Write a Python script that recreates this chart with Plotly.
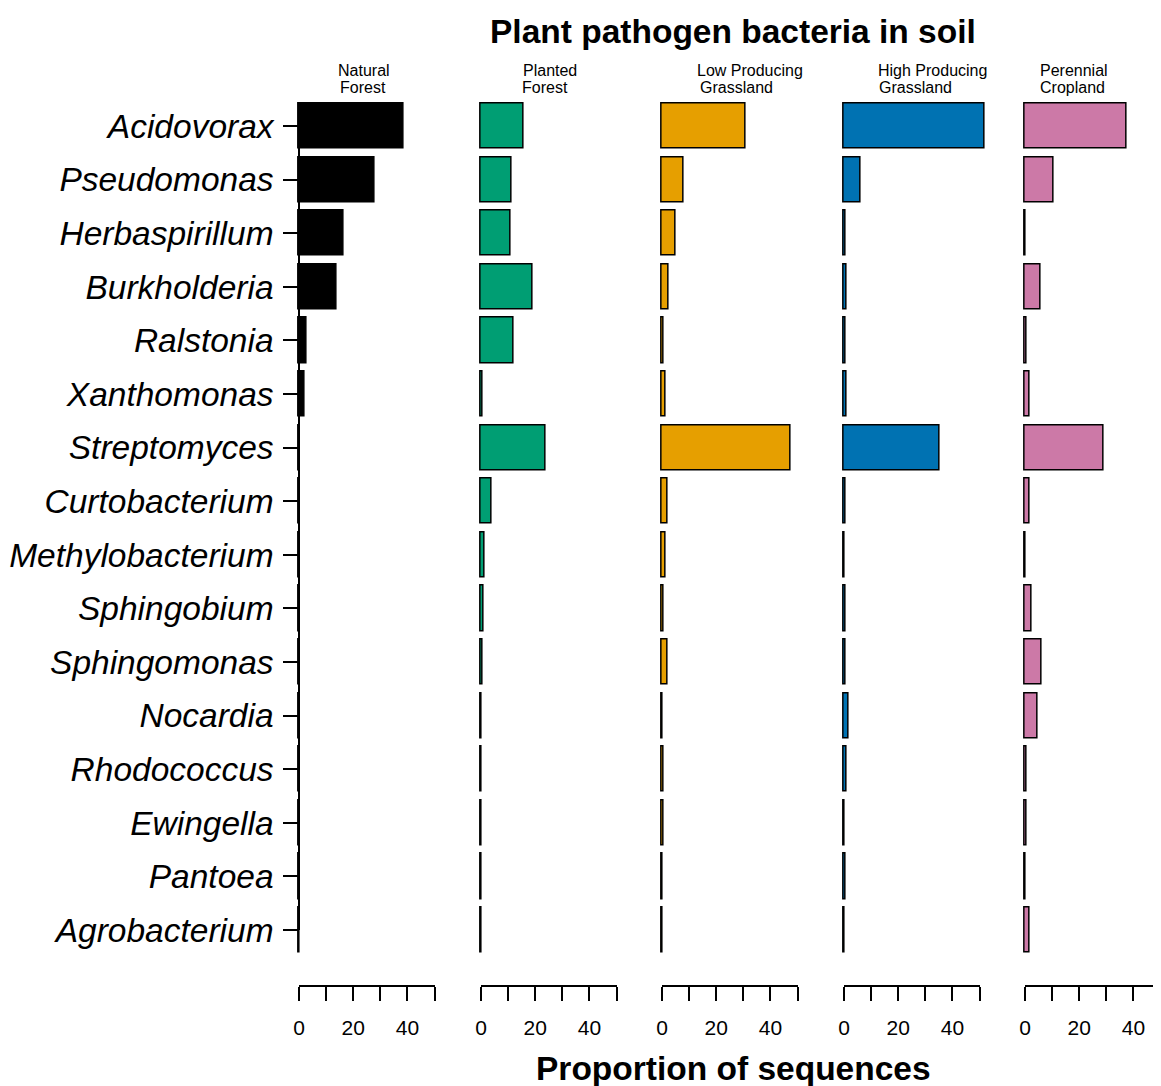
import plotly.graph_objects as go

# data
species = ["Acidovorax", "Pseudomonas", "Herbaspirillum", "Burkholderia", "Ralstonia",
           "Xanthomonas", "Streptomyces", "Curtobacterium", "Methylobacterium", "Sphingobium",
           "Sphingomonas", "Nocardia", "Rhodococcus", "Ewingella", "Pantoea", "Agrobacterium"]

natural_forest = [38.7, 27.9, 16.3, 13.8, 2.8, 2.2, 0.2, 0.2, 0.2, 0.2, 0.2, 0.2, 0.2, 0.2, 0.2, 0.2]
planted_forest = [15.8, 11.4, 10.8, 18.9, 12.1, 0.6, 23.8, 3.9, 1.2, 0.9, 0.5, 0.3, 0.3, 0.2, 0.2, 0.2]
low_grassland = [31.0, 7.8, 5.1, 2.3, 0.4, 1.3, 47.4, 2.2, 1.4, 0.4, 2.1, 0.2, 0.5, 0.5, 0.2, 0.2]
high_grassland = [52.0, 6.0, 0.5, 0.8, 0.5, 1.0, 35.3, 0.6, 0.3, 0.6, 0.7, 1.7, 1.0, 0.3, 0.6, 0.3]
perennial_cropland = [37.4, 10.4, 0.3, 5.8, 0.4, 1.6, 29.0, 1.8, 0.2, 2.6, 6.2, 4.5, 0.5, 0.5, 0.3, 1.6]

panels = [
    ("Natural", "Forest", natural_forest, "#000000"),
    ("Planted", "Forest", planted_forest, "#009E73"),
    ("Low Producing", "Grassland", low_grassland, "#E69F00"),
    ("High Producing", "Grassland", high_grassland, "#0072B2"),
    ("Perennial", "Cropland", perennial_cropland, "#CC79A7"),
]
x_ticks = [0, 10, 20, 30, 40, 50]
x_ticktext = ["0", "", "20", "", "40", ""]

# the page body has an 8px margin, so the figure starts at (8, 8) in the window
OFF = 8
W, H = 1161 - OFF, 1086 - OFF
FONT = "Liberation Sans, Arial, sans-serif"


def px_x(p):
    return (p - OFF) / W


def px_y(p):
    return 1 - (p - OFF) / H


# layout geometry (window pixels)
panel_x0 = [299, 481, 662, 844, 1025]
px_per_unit = 135.5 / 50
row0_px, row_last_px = 126, 930
row_px = (row_last_px - row0_px) / (len(species) - 1)
header_left = [(336, 338), (521, 520), (695, 698), (876, 877), (1038, 1038)]

fig = go.Figure()
layout = {}

# bar axis y (hidden), slightly wider than rows
y_lo, y_hi = -1, len(species)
top_px = row0_px + y_lo * row_px
bot_px = row0_px + y_hi * row_px
layout["yaxis"] = dict(domain=[px_y(bot_px), px_y(top_px)], range=[y_hi, y_lo],
                       visible=False, automargin=False)

# display y axis with species labels (line spans first to last tick)
layout["yaxis2"] = dict(
    domain=[px_y(row_last_px), px_y(row0_px)], range=[len(species) - 1, 0],
    anchor="free", position=px_x(panel_x0[0]), side="left",
    tickvals=list(range(len(species))), ticktext=species,
    tickfont=dict(family=FONT, size=33.5, color="black", style="italic"),
    ticks="outside", ticklen=15, tickwidth=1.5, tickcolor="black",
    showline=True, linewidth=1.5, linecolor="black", showgrid=False, zeroline=False,
    ticklabelstandoff=3, automargin=False,
)

for i, (l1, l2, vals, col) in enumerate(panels):
    x0 = panel_x0[i]
    xmin = -2
    xmax = min(54, (1161 - 0.5 - x0) / px_per_unit)
    bx = "xaxis" if i == 0 else f"xaxis{i + 1}"
    layout[bx] = dict(domain=[px_x(x0 + xmin * px_per_unit), px_x(x0 + xmax * px_per_unit)],
                      range=[xmin, xmax], anchor="y", visible=False, automargin=False)
    fig.add_trace(go.Bar(
        x=vals, y=list(range(len(species))), orientation="h", width=0.84,
        marker=dict(color=col, line=dict(color="black", width=1.5)),
        xaxis="x" if i == 0 else f"x{i + 1}", yaxis="y", showlegend=False, hoverinfo="x",
    ))

    # display x axis, 0..50 like R's axis()
    k = i + 6
    layout[f"xaxis{k}"] = dict(
        domain=[px_x(x0), px_x(x0 + 50 * px_per_unit)], range=[0, 50],
        anchor="free", position=px_y(986), side="bottom",
        tickvals=x_ticks, ticktext=x_ticktext,
        tickfont=dict(family=FONT, size=21, color="black"),
        ticks="outside", ticklen=14, tickwidth=1.5, tickcolor="black",
        showline=True, linewidth=1.5, linecolor="black", showgrid=False, zeroline=False,
        ticklabelstandoff=9, automargin=False,
    )
    fig.add_trace(go.Scatter(x=[None], y=[None], xaxis=f"x{k}", yaxis="y2",
                             mode="markers", showlegend=False, hoverinfo="skip"))

    for text, left, ypx in ((l1, header_left[i][0], 70), (l2, header_left[i][1], 88)):
        fig.add_annotation(text=text, xref="paper", yref="paper", x=px_x(left), y=px_y(ypx),
                           xanchor="left", yanchor="middle", showarrow=False,
                           font=dict(family=FONT, size=16, color="black"))

fig.add_annotation(text="<b>Plant pathogen bacteria in soil</b>", xref="paper", yref="paper",
                   x=px_x(733), y=px_y(32), xanchor="center", yanchor="middle", showarrow=False,
                   font=dict(family=FONT, size=33.5, color="black"))
fig.add_annotation(text="<b>Proportion of sequences</b>", xref="paper", yref="paper",
                   x=px_x(733), y=px_y(1068), xanchor="center", yanchor="middle", showarrow=False,
                   font=dict(family=FONT, size=33.5, color="black"))

fig.update_layout(
    **layout,
    width=W, height=H,
    margin=dict(l=0, r=0, t=0, b=0),
    paper_bgcolor="white", plot_bgcolor="rgba(0,0,0,0)",
    showlegend=False, bargap=0,
)

fig.write_html("out.html")
